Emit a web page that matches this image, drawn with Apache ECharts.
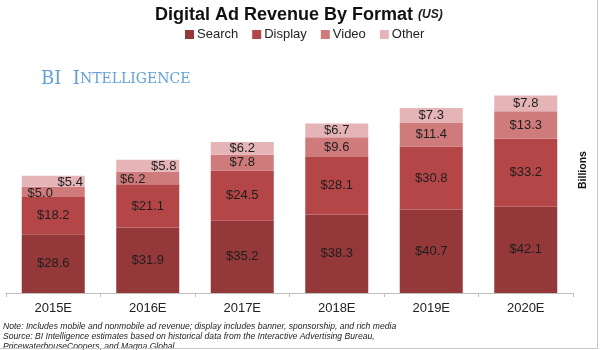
<!DOCTYPE html>
<html>
<head>
<meta charset="utf-8">
<script src="https://cdn.jsdelivr.net/npm/echarts@6/dist/echarts.min.js"></script>
<style>html,body{margin:0;padding:0;background:#fff}#c{width:600px;height:350px}</style>
</head>
<body>
<div id="c"></div>
<script>
var categories = ['2015E', '2016E', '2017E', '2018E', '2019E', '2020E'];
var searchVals = [28.6, 31.9, 35.2, 38.3, 40.7, 42.1];
var displayVals = [18.2, 21.1, 24.5, 28.1, 30.8, 33.2];
var videoVals = [5.0, 6.2, 7.8, 9.6, 11.4, 13.3];
var otherVals = [5.4, 5.8, 6.2, 6.7, 7.3, 7.8];
var seriesNames = ['Search', 'Display', 'Video', 'Other'];

var colors = ['#94383a', '#b54648', '#cf7b7c', '#e4b4b6'];
// label offsets for crowded small segments (style only)
var videoShift = [[-13, 1], [-15, 1]];
var otherShift = [[17, 1], [16, 1]];

function makeData(vals, shifts) {
  return vals.map(function (v, i) {
    var d = { value: v };
    if (shifts && shifts[i]) d.label = { offset: shifts[i] };
    return d;
  });
}
var labelCfg = {
  show: true, position: 'inside', color: '#1e1e1e', fontSize: 13,
  fontFamily: 'Liberation Sans',
  formatter: function (p) { return '$' + p.value.toFixed(1); }
};
var allVals = [searchVals, displayVals, videoVals, otherVals];
var shifts = [null, null, videoShift, otherShift];
var series = seriesNames.map(function (n, k) {
  return {
    name: n, type: 'bar', stack: 'total', barWidth: 63,
    itemStyle: { color: colors[k] },
    label: labelCfg,
    data: makeData(allVals[k], shifts[k])
  };
});

var chart = echarts.init(document.getElementById('c'), null, { renderer: 'canvas' });
chart.setOption({
  animation: false,
  backgroundColor: '#ffffff',
  title: {
    left: 150, top: 1,
    text: '{a|Digital Ad Revenue By Format} {b|(US)}',
    textStyle: {
      rich: {
        a: { fontSize: 18, fontWeight: 'bold', color: '#111', fontFamily: 'Liberation Sans' },
        b: { fontSize: 12, fontStyle: 'italic', color: '#222', fontFamily: 'Liberation Sans' }
      }
    }
  },
  legend: {
    left: 180, top: 23, itemWidth: 9, itemHeight: 9, itemGap: 14,
    icon: 'rect',
    textStyle: { fontSize: 13, color: '#222', fontFamily: 'Liberation Sans', padding: [0, 0, 0, -2] },
    data: seriesNames
  },
  grid: { left: 6, right: 27, top: 88, bottom: 57, containLabel: false },
  xAxis: {
    type: 'category', data: categories,
    axisLine: { lineStyle: { color: '#bfbfbf', width: 1 } },
    axisTick: { show: true, length: 4, lineStyle: { color: '#bfbfbf' } },
    axisLabel: { fontSize: 13, color: '#222', margin: 9, fontFamily: 'Liberation Sans' }
  },
  yAxis: {
    type: 'value', min: 0, max: 100, show: false,
    splitLine: { show: false }
  },
  series: series,
  graphic: [
    {
      type: 'text', left: 41, top: 70,
      style: {
        text: '{big|BI  I}{sm|NTELLIGENCE}',
        rich: {
          big: { fontSize: 18, fontFamily: 'DejaVu Serif', fill: '#62a0dc' },
          sm: { fontSize: 14, fontFamily: 'DejaVu Serif', fill: '#62a0dc' }
        }
      }
    },
    {
      type: 'text', x: 583, y: 170, rotation: Math.PI / 2,
      style: {
        text: 'Billions', fontSize: 10.5, fontWeight: 'bold', fill: '#111',
        fontFamily: 'Liberation Sans', align: 'center', verticalAlign: 'middle'
      }
    },
    {
      type: 'text', left: 3, top: 322,
      style: {
        text: 'Note: Includes mobile and nonmobile ad revenue; display includes banner, sponsorship, and rich media\nSource: BI Intelligence estimates based on historical data from the Interactive Advertising Bureau,\nPricewaterhouseCoopers, and Magna Global',
        fontSize: 8.6, fontStyle: 'italic', fill: '#222', lineHeight: 10,
        fontFamily: 'Liberation Sans'
      }
    },
    { type: 'line', shape: { x1: 597.5, y1: 0, x2: 597.5, y2: 349 }, style: { stroke: '#c8c8c8', lineWidth: 1 } },
    { type: 'line', shape: { x1: 0, y1: 348.5, x2: 598, y2: 348.5 }, style: { stroke: '#c8c8c8', lineWidth: 1 } }
  ]
});
</script>
</body>
</html>
